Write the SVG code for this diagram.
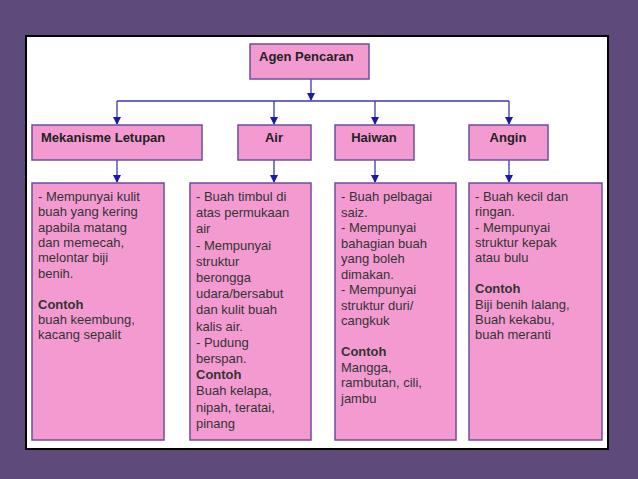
<svg xmlns="http://www.w3.org/2000/svg" width="638" height="479" viewBox="0 0 638 479">
<defs>
<marker id="ah" markerWidth="8" markerHeight="8" refX="7" refY="4" orient="auto" markerUnits="userSpaceOnUse"><path d="M0,0 L8,4 L0,8 Z" fill="#1a1aa8"/></marker>
<style>
.b{fill:#f39bd1;stroke:#6b4f9a;stroke-width:1.5}
.t{font-family:"Liberation Sans",Arial,sans-serif;font-size:13px;fill:#333}
.h{font-family:"Liberation Sans",Arial,sans-serif;font-size:13px;font-weight:bold;fill:#222}
.c{stroke:#3a3aa8;stroke-width:1.3;fill:none}
</style>
</defs>
<rect width="638" height="479" fill="#5f4b7b"/>
<rect x="26" y="36" width="582" height="413" fill="#fff" stroke="#000" stroke-width="2"/>
<g id="connectors">
<path class="c" d="M311,79 V100" marker-end="url(#ah)"/>
<path class="c" d="M117,101 H509"/>
<path class="c" d="M117,101 V124" marker-end="url(#ah)"/>
<path class="c" d="M274,101 V124" marker-end="url(#ah)"/>
<path class="c" d="M375,101 V124" marker-end="url(#ah)"/>
<path class="c" d="M509,101 V124" marker-end="url(#ah)"/>
<path class="c" d="M117,160 V182" marker-end="url(#ah)"/>
<path class="c" d="M274,160 V182" marker-end="url(#ah)"/>
<path class="c" d="M375,160 V182" marker-end="url(#ah)"/>
<path class="c" d="M509,160 V182" marker-end="url(#ah)"/>
</g>
<g id="agen"><rect class="b" x="250" y="44" width="119" height="35"/><text class="h" x="259" y="61">Agen Pencaran</text></g>
<g id="mekanisme"><rect class="b" x="32" y="125" width="170" height="35"/><text class="h" x="41" y="142">Mekanisme Letupan</text></g>
<g id="air"><rect class="b" x="238" y="125" width="73" height="35"/><text class="h" x="274" y="142" text-anchor="middle">Air</text></g>
<g id="haiwan"><rect class="b" x="335" y="125" width="79" height="35"/><text class="h" x="374" y="142" text-anchor="middle">Haiwan</text></g>
<g id="angin"><rect class="b" x="469" y="125" width="79" height="35"/><text class="h" x="508" y="142" text-anchor="middle">Angin</text></g>
<g id="box1"><rect class="b" x="32" y="183" width="132" height="257"/>
<text class="t" x="38" y="201"><tspan x="38">- Mempunyai kulit</tspan><tspan x="38" dy="15.3">buah yang kering</tspan><tspan x="38" dy="15.3">apabila matang</tspan><tspan x="38" dy="15.3">dan memecah,</tspan><tspan x="38" dy="15.3">melontar biji</tspan><tspan x="38" dy="15.3">benih.</tspan><tspan x="38" dy="31" font-weight="bold">Contoh</tspan><tspan x="38" dy="15.3">buah keembung,</tspan><tspan x="38" dy="15.3">kacang sepalit</tspan></text></g>
<g id="box2"><rect class="b" x="190" y="183" width="121" height="257"/>
<text class="t" x="196" y="201"><tspan x="196">- Buah timbul di</tspan><tspan x="196" dy="16.2">atas permukaan</tspan><tspan x="196" dy="16.2">air</tspan><tspan x="196" dy="16.2">- Mempunyai</tspan><tspan x="196" dy="16.2">struktur</tspan><tspan x="196" dy="16.2">berongga</tspan><tspan x="196" dy="16.2">udara/bersabut</tspan><tspan x="196" dy="16.2">dan kulit buah</tspan><tspan x="196" dy="16.2">kalis air.</tspan><tspan x="196" dy="16.2">- Pudung</tspan><tspan x="196" dy="16.2">berspan.</tspan><tspan x="196" dy="16.2" font-weight="bold">Contoh</tspan><tspan x="196" dy="16.2">Buah kelapa,</tspan><tspan x="196" dy="16.2">nipah, teratai,</tspan><tspan x="196" dy="16.2">pinang</tspan></text></g>
<g id="box3"><rect class="b" x="335" y="183" width="121" height="257"/>
<text class="t" x="341" y="201"><tspan x="341">- Buah pelbagai</tspan><tspan x="341" dy="15.5">saiz.</tspan><tspan x="341" dy="15.5">- Mempunyai</tspan><tspan x="341" dy="15.5">bahagian buah</tspan><tspan x="341" dy="15.5">yang boleh</tspan><tspan x="341" dy="15.5">dimakan.</tspan><tspan x="341" dy="15.5">- Mempunyai</tspan><tspan x="341" dy="15.5">struktur duri/</tspan><tspan x="341" dy="15.5">cangkuk</tspan><tspan x="341" dy="31" font-weight="bold">Contoh</tspan><tspan x="341" dy="15.5">Mangga,</tspan><tspan x="341" dy="15.5">rambutan, cili,</tspan><tspan x="341" dy="15.5">jambu</tspan></text></g>
<g id="box4"><rect class="b" x="469" y="183" width="133" height="257"/>
<text class="t" x="475" y="201"><tspan x="475">- Buah kecil dan</tspan><tspan x="475" dy="15.3">ringan.</tspan><tspan x="475" dy="15.3">- Mempunyai</tspan><tspan x="475" dy="15.3">struktur kepak</tspan><tspan x="475" dy="15.3">atau bulu</tspan><tspan x="475" dy="31" font-weight="bold">Contoh</tspan><tspan x="475" dy="15.3">Biji benih lalang,</tspan><tspan x="475" dy="15.3">Buah kekabu,</tspan><tspan x="475" dy="15.3">buah meranti</tspan></text></g>
</svg>
